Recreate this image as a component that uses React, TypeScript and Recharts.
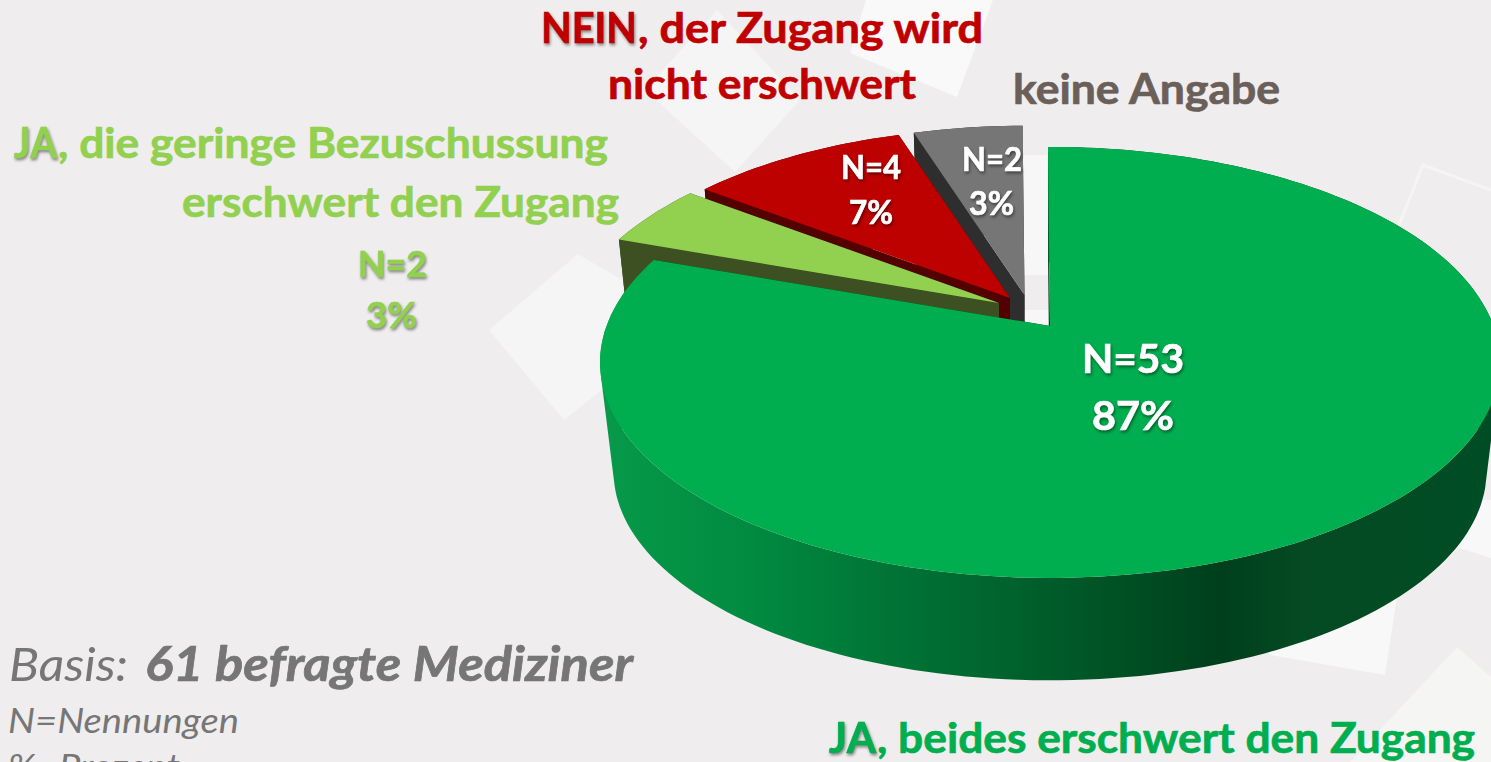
import React from "react";
import { PieChart, Pie } from "recharts";

// order: counter-clockwise from the top, so the big slice is painted last
const categories = ["keine Angabe", "NEIN", "JA gering", "JA beides"];
const nennungen = [2, 4, 2, 53];
const prozent = [3, 7, 3, 87];
// arc sizes as drawn in the picture: the small ones follow N, the green one is drawn shorter than N=53
const arcValues = [2, 4, 2, 33];

const topColors = ["#767676", "#bd0000", "#92d050", "#00ae4f"];
const wallColors = ["#2e2e2e", "#520000", "#3d5022", "url(#greenWall)"];
// how far each slice is pulled out of the pie, and its perspective shrink
const offsetX = [-25.5, -40, -51, 0];
const offsetY = [-31, -28, -23, 0];
const shrink = [0.945, 0.95, 0.96, 1];

const W = 1491;
const H = 762;
const PIE_X = 1050;
const PIE_Y = 326;
const RADIUS = 443.5;
const TILT = 0.472;
const PERSP = 0.169;
const DEPTH = 110;
const BOTTOM_SCALE = 0.97;

const chartData = categories.map((name, i) => ({ name, value: arcValues[i] }));

const pt = (p: number[]) => `${p[0].toFixed(1)},${p[1].toFixed(1)}`;

// quad as path, always wound the same way so overlapping quads do not cancel out
function quadPath(q: number[][]) {
  let area = 0;
  q.forEach((p, n) => {
    const next = q[(n + 1) % q.length];
    area += p[0] * next[1] - next[0] * p[1];
  });
  const pts = area < 0 ? [...q].reverse() : q;
  return `M${pts.map(pt).join(" L")} Z `;
}

function Slice3D(props: any) {
  const { cx, cy, outerRadius, startAngle, endAngle, name } = props;
  const i = categories.indexOf(name);
  const s = shrink[i];

  const project = (deg: number, r: number, bottom: boolean) => {
    const a = (deg * Math.PI) / 180;
    const u = r * Math.cos(a);
    const v = -r * Math.sin(a);
    const k = (bottom ? BOTTOM_SCALE : 1) * s;
    const d = 1 - PERSP * v;
    return [
      cx + offsetX[i] + (k * outerRadius * u) / d,
      cy + offsetY[i] + (bottom ? DEPTH * s : 0) + (k * outerRadius * TILT * v) / d,
    ];
  };

  const topArc: number[][] = [];
  const bottomArc: number[][] = [];
  const steps = Math.max(2, Math.ceil((endAngle - startAngle) / 1.5));
  for (let n = 0; n <= steps; n++) {
    const deg = startAngle + ((endAngle - startAngle) * n) / steps;
    topArc.push(project(deg, 1, false));
    bottomArc.push(project(deg, 1, true));
  }
  const apexTop = project(0, 0, false);
  const apexBottom = project(0, 0, true);
  const last = topArc.length - 1;

  const side1 = [apexTop, topArc[0], bottomArc[0], apexBottom];
  const side2 = [apexTop, topArc[last], bottomArc[last], apexBottom];
  // one small quad per step, so the outline follows the hull of the two rims
  let rim = "";
  for (let n = 0; n < last; n++) {
    rim += quadPath([topArc[n], topArc[n + 1], bottomArc[n + 1], bottomArc[n]]);
  }
  const face = [apexTop, ...topArc];
  const wall = wallColors[i];

  return (
    <g>
      <polygon points={side1.map(pt).join(" ")} fill={i === 3 ? "#003f1c" : wall} />
      <polygon points={side2.map(pt).join(" ")} fill={i === 3 ? "#003f1c" : wall} />
      <path d={rim} fill={wall} fillRule="nonzero" />
      <polygon points={face.map(pt).join(" ")} fill={topColors[i]} />
    </g>
  );
}

function Txt({ x, y, w, size, fill, bold, italic, shadow, children }: any) {
  return (
    <text
      x={x}
      y={y}
      textLength={w}
      lengthAdjust="spacingAndGlyphs"
      fontFamily="Lato"
      fontSize={size}
      fontWeight={bold ? 700 : 400}
      fontStyle={italic ? "italic" : "normal"}
      fill={fill}
      stroke={bold ? fill : "none"}
      strokeWidth={bold ? 0.7 : 0}
      style={shadow ? { filter: `drop-shadow(1.5px 2px 1.5px rgba(0,0,0,0.45))` } : undefined}
    >
      {children}
    </text>
  );
}

const LIGHT = "#92d050";
const RED = "#c00000";
const GREEN = "#00ae4f";
const GREY = "#767676";

export default function App() {
  return (
    <div style={{ position: "absolute", left: 0, top: 0, width: W, height: H, overflow: "hidden", background: "#efedee" }}>
      {/* pale squares of the slide background */}
      <svg width={W} height={H} style={{ position: "absolute", left: 0, top: 0 }}>
        <polygon points="578,254 489,330 564,420 690,320" fill="#f5f5f5" />
        <polygon points="717,10 800,100 735,172 645,90" fill="#f5f5f5" />
        <polygon points="866,0 993,0 957,97 850,53" fill="#f9f9f9" />
        <rect x={1020} y={155} width={30} height={120} fill="#f7f7f7" />
        <rect x={1020} y={310} width={30} height={18} fill="#f7f7f7" />
        <polygon points="1240,600 1397,597 1385,675 1270,655" fill="#f8f8f8" />
        <polygon points="1420,500 1491,500 1491,558 1460,548 1430,570" fill="#f8f8f8" />
        <polygon points="1457,647 1491,677 1491,762 1350,762" fill="#f5f5f3" />
        <polyline points="1395,235 1423,165 1491,190" fill="none" stroke="#f5f5f5" strokeWidth={3} />
      </svg>

      <div style={{ position: "absolute", left: 0, top: 0 }}>
        <PieChart width={W} height={H} margin={{ top: 0, right: 0, bottom: 0, left: 0 }}>
          <defs>
            <linearGradient id="greenWall" gradientUnits="userSpaceOnUse" x1={600} y1={0} x2={1500} y2={0}>
              <stop offset="0" stopColor="#079a4a" />
              <stop offset="0.17" stopColor="#018a40" />
              <stop offset="0.33" stopColor="#007335" />
              <stop offset="0.5" stopColor="#005c2a" />
              <stop offset="0.69" stopColor="#003f1c" />
              <stop offset="0.78" stopColor="#044a22" />
              <stop offset="1" stopColor="#004d25" />
            </linearGradient>
          </defs>
          <Pie
            data={chartData}
            dataKey="value"
            nameKey="name"
            cx={PIE_X}
            cy={PIE_Y}
            innerRadius={0}
            outerRadius={RADIUS}
            startAngle={90.3}
            endAngle={450.3}
            paddingAngle={0}
            stroke="none"
            label={false}
            labelLine={false}
            isAnimationActive={false}
            shape={Slice3D}
          />
        </PieChart>
      </div>

      <svg width={W} height={H} style={{ position: "absolute", left: 0, top: 0 }}>
        <Txt x={541} y={43} w={96} size={42} fill={RED} bold shadow>NEIN</Txt>
        <Txt x={638} y={43} w={345} size={42} fill={RED} bold>, der Zugang wird</Txt>
        <Txt x={608} y={99} w={308} size={42} fill={RED} bold>nicht erschwert</Txt>
        <Txt x={1013} y={104} w={267} size={42} fill="#6b5f5a" bold>keine Angabe</Txt>

        <Txt x={14} y={158} w={43} size={42} fill={LIGHT} bold shadow>JA</Txt>
        <Txt x={58} y={158} w={550} size={42} fill={LIGHT} bold>, die geringe Bezuschussung</Txt>
        <Txt x={182} y={217} w={437} size={42} fill={LIGHT} bold>erschwert den Zugang</Txt>
        <Txt x={358} y={277} w={69} size={37} fill={LIGHT} bold shadow>{`N=${nennungen[2]}`}</Txt>
        <Txt x={366} y={328} w={51} size={37} fill={LIGHT} bold shadow>{`${prozent[2]}%`}</Txt>

        <Txt x={962} y={171} w={60} size={33} fill="#fff" bold shadow>{`N=${nennungen[0]}`}</Txt>
        <Txt x={969} y={215} w={45} size={33} fill="#fff" bold shadow>{`${prozent[0]}%`}</Txt>
        <Txt x={841} y={179} w={60} size={33} fill="#fff" bold shadow>{`N=${nennungen[1]}`}</Txt>
        <Txt x={849} y={224} w={44} size={33} fill="#fff" bold shadow>{`${prozent[1]}%`}</Txt>
        <Txt x={1082} y={373} w={102} size={41} fill="#fff" bold shadow>{`N=${nennungen[3]}`}</Txt>
        <Txt x={1092} y={430} w={82} size={41} fill="#fff" bold shadow>{`${prozent[3]}%`}</Txt>

        <Txt x={829} y={753} w={47} size={42} fill={GREEN} bold shadow>JA</Txt>
        <Txt x={877} y={753} w={598} size={42} fill={GREEN} bold>, beides erschwert den Zugang</Txt>

        <Txt x={9} y={681} w={119} size={47} fill={GREY} italic>Basis:</Txt>
        <Txt x={145} y={681} w={488} size={47} fill={GREY} bold italic>61 befragte Mediziner</Txt>
        <Txt x={8} y={733} w={231} size={35} fill={GREY} italic>N=Nennungen</Txt>
        <Txt x={8} y={779} w={172} size={35} fill={GREY} italic>%=Prozent</Txt>
      </svg>
    </div>
  );
}
